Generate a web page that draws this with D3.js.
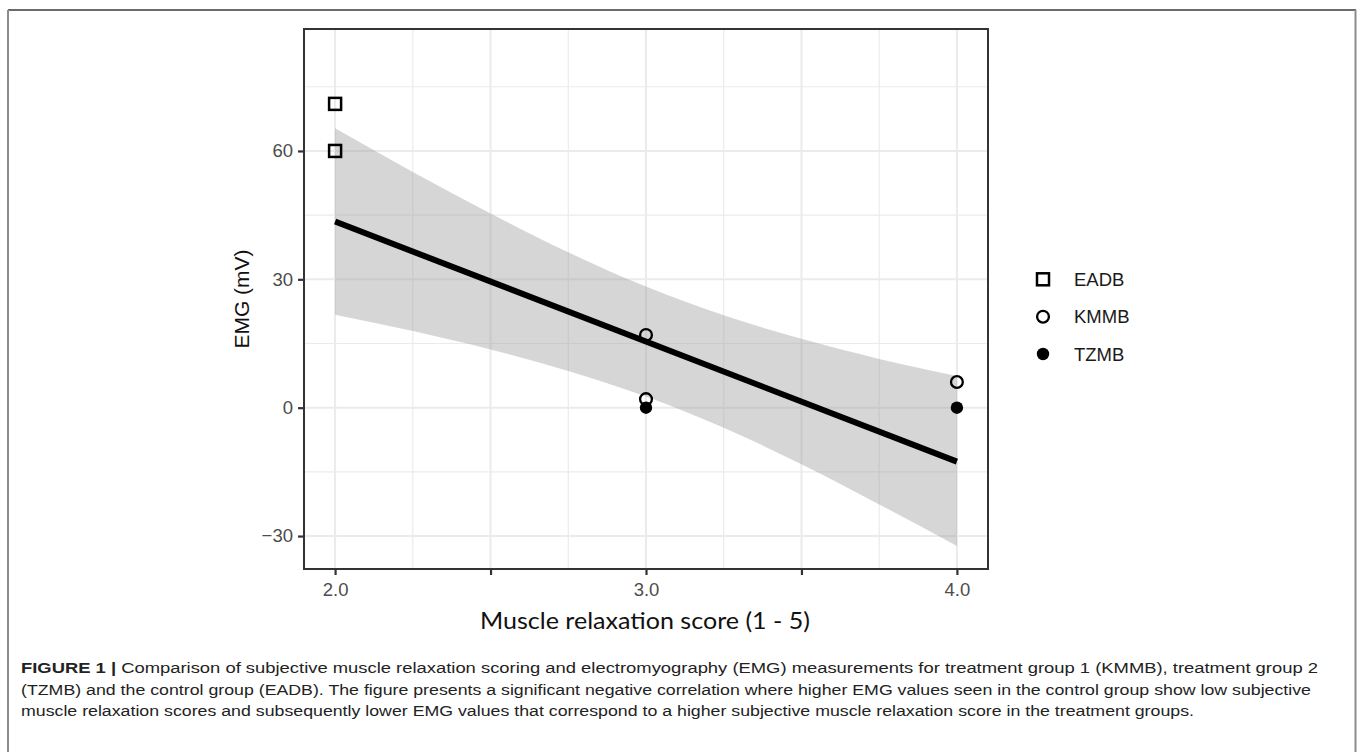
<!DOCTYPE html>
<html>
<head>
<meta charset="utf-8">
<script src="https://cdn.jsdelivr.net/npm/d3@7"></script>
<style>
  body { margin: 0; background: #fff; }
  svg { display: block; }
</style>
</head>
<body>
<script>
// values
const groups = ["EADB", "KMMB", "TZMB"];
const eadbX = [2, 2];
const eadbY = [71, 60];
const kmmbX = [3, 3, 4];
const kmmbY = [17, 2, 6];
const tzmbX = [3, 4];
const tzmbY = [0, 0];

// fitted line and its confidence band
const fitX = [2, 4];
const fitY = [43.5, -12.6];
const bandX = [2, 2.25, 2.5, 2.75, 3, 3.25, 3.5, 3.75, 4];
const bandHigh = [65.3, 55.1, 45.4, 36.3, 28.3, 21.6, 16.1, 11.4, 7.4];
const bandLow = [21.7, 17.9, 13.6, 8.6, 2.6, -4.7, -13.2, -22.6, -32.3];

const xTicks = [2, 2.5, 3, 3.5, 4];
const xTickLabels = ["2.0", "", "3.0", "", "4.0"];
const xMinor = [2.25, 2.75, 3.25, 3.75];
const yTicks = [-30, 0, 30, 60];
const yTickLabels = ["\u221230", "0", "30", "60"];
const yMinor = [-15, 15, 45, 75];

const captionLines = [
  ["FIGURE 1 | ", "Comparison of subjective muscle relaxation scoring and electromyography (EMG) measurements for treatment group 1 (KMMB), treatment group 2"],
  ["", "(TZMB) and the control group (EADB). The figure presents a significant negative correlation where higher EMG values seen in the control group show low subjective"],
  ["", "muscle relaxation scores and subsequently lower EMG values that correspond to a higher subjective muscle relaxation score in the treatment groups."]
];

const W = 1360, H = 752;
const panel = { left: 304, top: 29, right: 988, bottom: 569 };

const svg = d3.select("body").append("svg")
  .attr("width", W).attr("height", H);

// outer frame of the figure
svg.append("line").attr("x1", 8).attr("x2", 1356).attr("y1", 10).attr("y2", 10)
  .attr("stroke", "#3a3a3a").attr("stroke-width", 1.5);
svg.append("line").attr("x1", 8).attr("x2", 8).attr("y1", 10).attr("y2", H)
  .attr("stroke", "#8c8c8c").attr("stroke-width", 2);
svg.append("line").attr("x1", 1355.5).attr("x2", 1355.5).attr("y1", 10).attr("y2", H)
  .attr("stroke", "#8c8c8c").attr("stroke-width", 2);

const x = d3.scaleLinear().domain([1.9, 4.1]).range([panel.left, panel.right]);
const y = d3.scaleLinear().domain([-37.7, 88.5]).range([panel.bottom, panel.top]);

const g = svg.append("g");

// grid
g.selectAll(".vminor").data(xMinor).join("line")
  .attr("x1", d => x(d)).attr("x2", d => x(d))
  .attr("y1", panel.top).attr("y2", panel.bottom)
  .attr("stroke", "#ebebeb").attr("stroke-width", 1.2);
g.selectAll(".hminor").data(yMinor).join("line")
  .attr("y1", d => y(d)).attr("y2", d => y(d))
  .attr("x1", panel.left).attr("x2", panel.right)
  .attr("stroke", "#ebebeb").attr("stroke-width", 1.2);
g.selectAll(".vmajor").data(xTicks).join("line")
  .attr("x1", d => x(d)).attr("x2", d => x(d))
  .attr("y1", panel.top).attr("y2", panel.bottom)
  .attr("stroke", "#ebebeb").attr("stroke-width", 2);
g.selectAll(".hmajor").data(yTicks).join("line")
  .attr("y1", d => y(d)).attr("y2", d => y(d))
  .attr("x1", panel.left).attr("x2", panel.right)
  .attr("stroke", "#ebebeb").attr("stroke-width", 2);

// confidence band
const band = bandX.map((d, i) => ({ x: d, lo: bandLow[i], hi: bandHigh[i] }));
g.append("path").datum(band)
  .attr("d", d3.area().x(d => x(d.x)).y0(d => y(d.lo)).y1(d => y(d.hi)).curve(d3.curveMonotoneX))
  .attr("fill", "#999999").attr("fill-opacity", 0.4);

// points
const sq = 12;
g.selectAll(".eadb").data(eadbX.map((d, i) => [d, eadbY[i]])).join("rect")
  .attr("x", d => x(d[0]) - sq / 2).attr("y", d => y(d[1]) - sq / 2)
  .attr("width", sq).attr("height", sq)
  .attr("fill", "none").attr("stroke", "#000").attr("stroke-width", 2.5);
g.selectAll(".tzmb").data(tzmbX.map((d, i) => [d, tzmbY[i]])).join("circle")
  .attr("cx", d => x(d[0])).attr("cy", d => y(d[1])).attr("r", 6.2)
  .attr("fill", "#000");
g.selectAll(".kmmb").data(kmmbX.map((d, i) => [d, kmmbY[i]])).join("circle")
  .attr("cx", d => x(d[0])).attr("cy", d => y(d[1])).attr("r", 5.9)
  .attr("fill", "none").attr("stroke", "#000").attr("stroke-width", 2.3);

// fitted line
g.append("line")
  .attr("x1", x(fitX[0])).attr("y1", y(fitY[0]))
  .attr("x2", x(fitX[1])).attr("y2", y(fitY[1]))
  .attr("stroke", "#000").attr("stroke-width", 6);

// panel border
g.append("rect")
  .attr("x", panel.left).attr("y", panel.top)
  .attr("width", panel.right - panel.left).attr("height", panel.bottom - panel.top)
  .attr("fill", "none").attr("stroke", "#333").attr("stroke-width", 2);

// axes
const xAxis = svg.append("g").attr("transform", `translate(0,${panel.bottom})`)
  .call(d3.axisBottom(x).tickValues(xTicks).tickFormat((d, i) => xTickLabels[i]).tickSize(6).tickSizeOuter(0));
const yAxis = svg.append("g").attr("transform", `translate(${panel.left},0)`)
  .call(d3.axisLeft(y).tickValues(yTicks).tickFormat((d, i) => yTickLabels[i]).tickSize(6).tickPadding(5).tickSizeOuter(0));
[xAxis, yAxis].forEach(a => {
  a.select(".domain").remove();
  a.selectAll(".tick line").attr("stroke", "#333").attr("stroke-width", 2.2);
  a.selectAll(".tick text")
    .attr("fill", "#4d4d4d")
    .style("font-family", "'Liberation Sans', Arial, sans-serif")
    .style("font-size", "18.5px");
});
xAxis.selectAll(".tick text").attr("y", 21).attr("dy", "0.35em");

// axis titles
svg.append("text")
  .attr("transform", `translate(${249},${(panel.top + panel.bottom) / 2}) rotate(-90)`)
  .attr("text-anchor", "middle")
  .style("font-family", "'Liberation Sans', Arial, sans-serif")
  .style("font-size", "21px").attr("fill", "#111")
  .text("EMG (mV)");

svg.append("text")
  .attr("x", 480).attr("y", 629)
  .attr("textLength", 330).attr("lengthAdjust", "spacingAndGlyphs")
  .style("font-family", "Lato, 'Open Sans', sans-serif")
  .style("font-size", "23px").attr("fill", "#111")
  .text("Muscle relaxation score (1 - 5)");

// legend
const leg = svg.append("g").attr("transform", "translate(1043,0)");
const legY = [279.3, 316.7, 354];
leg.append("rect").attr("x", -sq / 2).attr("y", legY[0] - sq / 2).attr("width", sq).attr("height", sq)
  .attr("fill", "none").attr("stroke", "#000").attr("stroke-width", 2.5);
leg.append("circle").attr("cx", 0).attr("cy", legY[1]).attr("r", 5.9)
  .attr("fill", "none").attr("stroke", "#000").attr("stroke-width", 2.3);
leg.append("circle").attr("cx", 0).attr("cy", legY[2]).attr("r", 6.2).attr("fill", "#000");
leg.selectAll(".lab").data(groups).join("text")
  .attr("x", 31).attr("y", (d, i) => legY[i]).attr("dy", "0.36em")
  .style("font-family", "'Liberation Sans', Arial, sans-serif")
  .style("font-size", "18.5px").attr("fill", "#1a1a1a")
  .text(d => d);

// caption: lines 2 and 3 share one squeeze so line 2 ends near x=1311,
// line 1 is stretched to reach ~1318 like the reference
const capX = 21;
const capY = [673, 695, 716];
const capTexts = captionLines.map((line, i) => {
  const t = svg.append("text")
    .attr("x", capX).attr("y", capY[i])
    .style("font-family", "'Liberation Sans', Arial, sans-serif")
    .style("font-size", "15.5px").attr("fill", "#222");
  if (line[0]) t.append("tspan").attr("font-weight", "bold").text(line[0]);
  t.append("tspan").text(line[1]);
  return t;
});
const squeeze = (1311 - capX) / capTexts[1].node().getComputedTextLength();
capTexts.forEach((t, i) => {
  const len = i === 0 ? 1318 - capX : t.node().getComputedTextLength() * squeeze;
  t.attr("textLength", len).attr("lengthAdjust", "spacingAndGlyphs");
});
</script>
</body>
</html>
